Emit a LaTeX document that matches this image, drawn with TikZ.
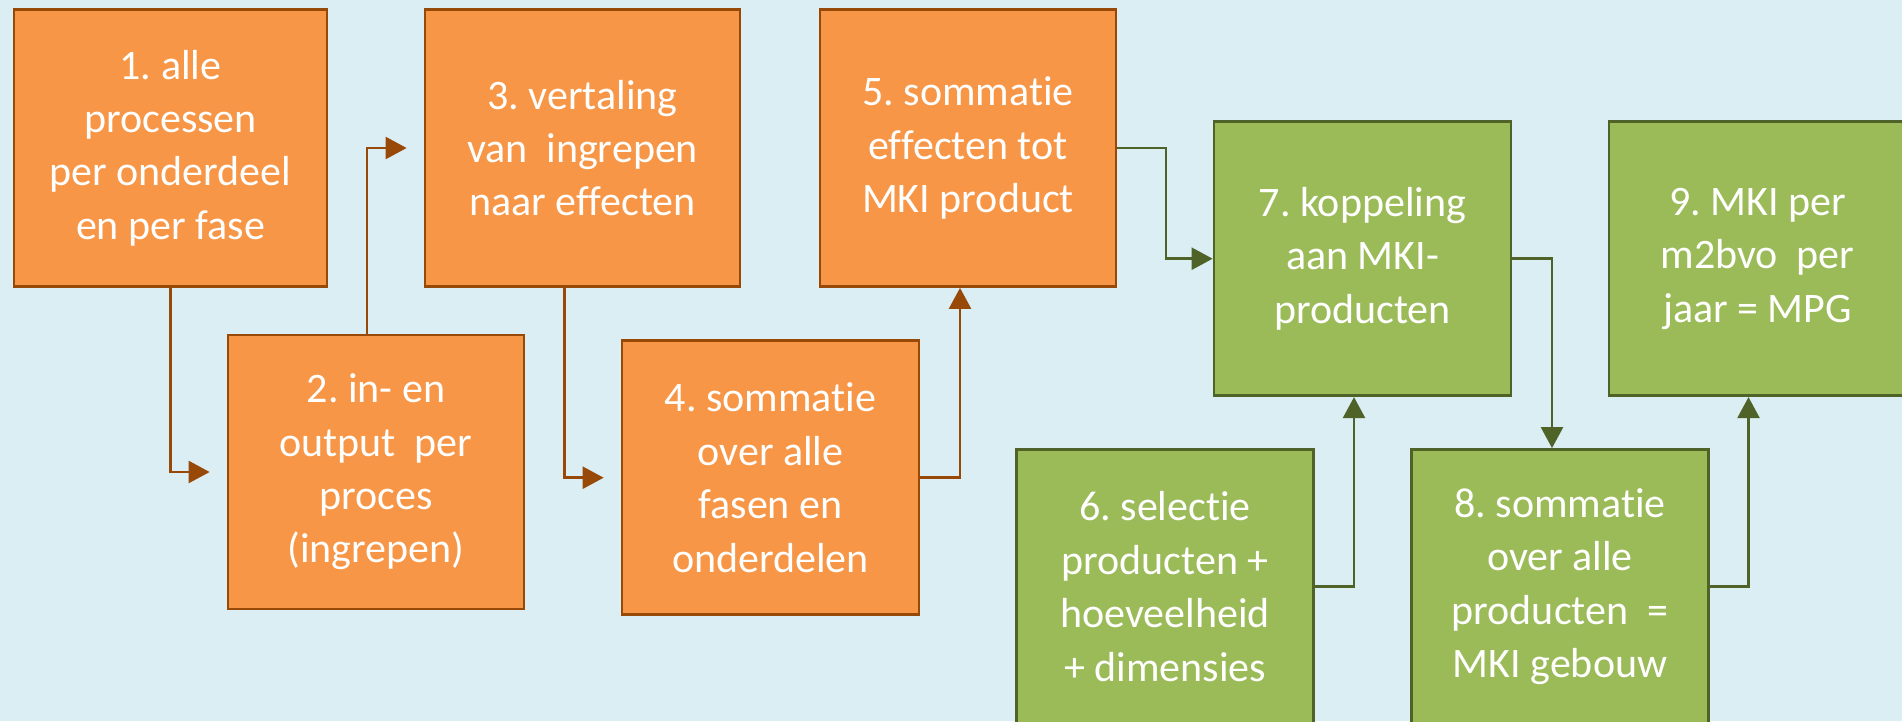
\documentclass[tikz,border=0pt]{standalone}
\usepackage{xcolor}
\usepackage{fontspec}
\setmainfont{Carlito}[Ligatures=NoCommon]
\usepackage{tikz}
\usetikzlibrary{positioning, arrows.meta}

\begin{document}
\begin{tikzpicture}[x=0.02cm, y=-0.02cm,
    box/.style={draw, line width=1.6pt, text=white, align=center, inner sep=0pt,
        font=\fontsize{23.9}{30.4}\selectfont\frenchspacing},
    obox/.style={box, fill=orangefill, draw=orangeline},
    gbox/.style={box, fill=greenfill, draw=greenline, minimum width=5.94cm, minimum height=5.48cm},
    oarrow/.style={line width=1.4pt, draw=orangeline, -{Triangle[length=0.42cm, width=0.44cm]}},
    garrow/.style={line width=1.4pt, draw=greenline, -{Triangle[length=0.42cm, width=0.44cm]}}]

    % Define colors
    \definecolor{bgcolor}{RGB}{219, 238, 244}
    \definecolor{orangefill}{RGB}{247, 150, 70}
    \definecolor{orangeline}{RGB}{152, 72, 7}
    \definecolor{greenfill}{RGB}{155, 187, 89}
    \definecolor{greenline}{RGB}{79, 98, 40}

    % Background
    \useasboundingbox (0, 0) rectangle (1902, 721);
    \fill[bgcolor] (0, 0) rectangle (1902, 721);
    \clip (0, 0) rectangle (1902, 721);

    % Orange boxes
    \node[obox, minimum width=6.26cm, minimum height=5.54cm] (b1) at (170.5, 148) {1. alle\\processen\\per onderdeel\\en per fase};
    \node[obox, minimum width=5.92cm, minimum height=5.48cm] (b2) at (376, 472) {2. in- en\\output~ per\\proces\\(ingrepen)};
    \node[obox, minimum width=6.3cm, minimum height=5.54cm] (b3) at (582.5, 148) {3. vertaling\\van~ ingrepen\\naar effecten};
    \node[obox, minimum width=5.94cm, minimum height=5.48cm] (b4) at (770.5, 477.7) {4. sommatie\\over alle\\fasen en\\onderdelen};
    \node[obox, minimum width=5.92cm, minimum height=5.54cm] (b5) at (968, 148) {5. sommatie\\effecten tot\\MKI product};

    % Green boxes
    \node[gbox] (b6) at (1165, 586.5) {6. selectie\\producten +\\hoeveelheid\\+ dimensies};
    \node[gbox] (b7) at (1362.5, 258.7) {7. koppeling\\aan MKI-\\producten};
    \node[gbox] (b8) at (1560, 586.5) {8. sommatie\\over alle\\producten~ =\\MKI gebouw};
    \node[gbox] (b9) at (1757.5, 258.7) {9. MKI per\\m2bvo~ per\\jaar = MPG};

    % Orange connectors
    \draw[oarrow, shorten >=0.34cm] (b1.south) |- (b2.west);
    \draw[oarrow, shorten >=0.34cm] ([xshift=-0.18cm]b2.north) |- (b3.west);
    \draw[oarrow, shorten >=0.34cm] ([xshift=-0.36cm]b3.south) |- (b4.west);
    \draw[oarrow] (b4.east) -| ([xshift=-0.16cm]b5.south);

    % Green connectors
    \draw[garrow] (b5.east) -- ++(48.5, 0) |- (b7.west);
    \draw[garrow] (b7.east) -| ([xshift=-0.16cm]b8.north);
    \draw[garrow] (b6.east) -| ([xshift=-0.17cm]b7.south);
    \draw[garrow] (b8.east) -| ([xshift=-0.18cm]b9.south);

\end{tikzpicture}
\end{document}
